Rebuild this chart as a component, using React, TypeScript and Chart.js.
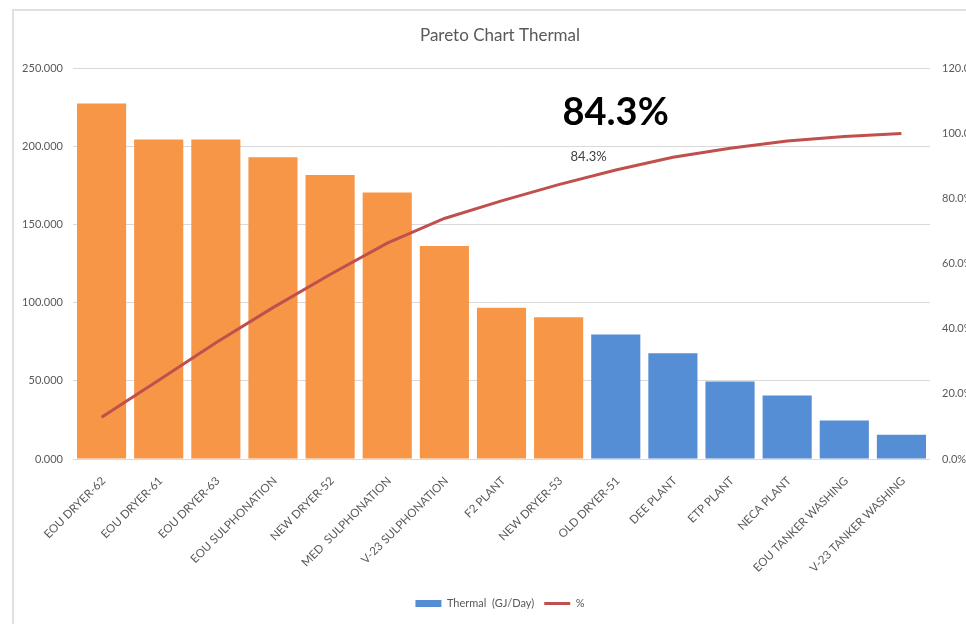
import React, { useEffect, useRef } from "react";
import { Chart, registerables } from "chart.js";

Chart.register(...registerables);

// Plants, sorted by daily thermal load
const categories = [
  "EOU DRYER-62",
  "EOU DRYER-61",
  "EOU DRYER-63",
  "EOU SULPHONATION",
  "NEW DRYER-52",
  "MED  SULPHONATION",
  "V-23 SULPHONATION",
  "F2 PLANT",
  "NEW DRYER-53",
  "OLD DRYER-51",
  "DEE PLANT",
  "ETP PLANT",
  "NECA PLANT",
  "EOU TANKER WASHING",
  "V-23 TANKER WASHING",
];

// Thermal (GJ/Day)
const thermal = [227.6, 204.5, 204.5, 193.1, 181.8, 170.5, 136.3, 96.8, 90.8, 79.7, 67.7, 49.6, 40.6, 24.6, 15.6];

// Cumulative share (%)
const cumulative = [12.8, 24.2, 35.7, 46.5, 56.7, 66.3, 73.9, 79.3, 84.3, 88.8, 92.7, 95.5, 97.7, 99.1, 100.0];

// Number of leading plants that make up the ~80% group
const vitalFew = 9;
// Point whose cumulative value is called out
const calloutIndex = 8;

const ORANGE = "#F79646";
const BLUE = "#558ED5";
const RED = "#C0504D";
const TEXT = "#595959";
const FONT = "Lato, 'Open Sans', sans-serif";

const calloutPlugin = {
  id: "callout",
  afterDatasetsDraw(chart: any) {
    const meta = chart.getDatasetMeta(1);
    const pt = meta.data[calloutIndex];
    if (!pt) return;
    const label = cumulative[calloutIndex].toFixed(1) + "%";
    const ctx = chart.ctx;
    ctx.save();
    ctx.textAlign = "center";
    ctx.textBaseline = "middle";
    ctx.font = `13px ${FONT}`;
    ctx.fillStyle = "#404040";
    ctx.fillText(label, pt.x + 30, pt.y - 28);
    ctx.font = `bold 38px ${FONT}`;
    ctx.fillStyle = "#000000";
    ctx.fillText(label, pt.x + 57, pt.y - 72);
    ctx.restore();
  },
};

export default function App() {
  const canvasRef = useRef<HTMLCanvasElement | null>(null);

  useEffect(() => {
    const canvas = canvasRef.current;
    if (!canvas) return;
    const chart = new Chart(canvas, {
      type: "bar",
      data: {
        labels: categories,
        datasets: [
          {
            type: "bar",
            label: "Thermal  (GJ/Day)",
            data: thermal,
            backgroundColor: thermal.map((_, i) => (i < vitalFew ? ORANGE : BLUE)),
            borderWidth: 0,
            categoryPercentage: 0.86,
            barPercentage: 1,
            yAxisID: "y",
            order: 1,
          },
          {
            type: "line",
            label: "%",
            data: cumulative,
            borderColor: RED,
            backgroundColor: RED,
            borderWidth: 3,
            pointRadius: 0,
            tension: 0,
            yAxisID: "y1",
            order: 0,
          },
        ] as any,
      },
      options: {
        responsive: false,
        animation: false,
        layout: { padding: { left: 0, right: 0, top: 0, bottom: 5 } },
        plugins: {
          title: {
            display: true,
            text: "Pareto Chart Thermal",
            color: TEXT,
            font: { family: FONT, size: 17, weight: "normal" },
            padding: { top: 14, bottom: 23 },
          },
          legend: {
            position: "bottom",
            labels: {
              usePointStyle: true,
              pointStyleWidth: 26,
              boxWidth: 26,
              boxHeight: 7,
              padding: 10,
              color: TEXT,
              font: { family: FONT, size: 11 },
              generateLabels: (c: any) =>
                c.data.datasets.map((ds: any, i: number) => ({
                  text: ds.label,
                  fillStyle: i === 0 ? BLUE : RED,
                  strokeStyle: i === 0 ? BLUE : RED,
                  lineWidth: i === 0 ? 0 : 3,
                  pointStyle: i === 0 ? "rect" : "line",
                  fontColor: TEXT,
                  hidden: false,
                  datasetIndex: i,
                })),
            },
          },
          tooltip: { enabled: false },
        },
        scales: {
          x: {
            grid: { display: false, drawTicks: false },
            border: { display: false },
            ticks: {
              autoSkip: false,
              maxRotation: 45,
              minRotation: 45,
              padding: 15,
              labelOffset: 2,
              color: TEXT,
              font: { family: FONT, size: 11.5 },
            },
            afterFit: (s: any) => {
              s.height = 129;
            },
          },
          y: {
            position: "left",
            min: 0,
            max: 250,
            ticks: {
              stepSize: 50,
              padding: 10,
              color: TEXT,
              font: { family: FONT, size: 11 },
              callback: (v: any) => Number(v).toFixed(3),
            },
            grid: { color: "#D9D9D9", drawTicks: false },
            border: { display: false },
            afterFit: (s: any) => {
              s.width = 59;
            },
          },
          y1: {
            position: "right",
            min: 0,
            max: 120,
            ticks: {
              stepSize: 20,
              padding: 12,
              color: TEXT,
              font: { family: FONT, size: 11 },
              callback: (v: any) => Number(v).toFixed(1) + "%",
            },
            grid: { display: false, drawTicks: false },
            border: { display: false },
            afterFit: (s: any) => {
              s.width = 56;
            },
          },
        },
      } as any,
      plugins: [calloutPlugin],
    });
    return () => chart.destroy();
  }, []);

  return (
    <div
      style={{
        position: "fixed",
        left: 0,
        top: 0,
        width: 966,
        height: 624,
        overflow: "hidden",
        background: "#ffffff",
      }}
    >
      <div
        style={{
          position: "absolute",
          left: 12,
          top: 9,
          width: 972,
          height: 640,
          borderLeft: "2px solid #E0E0E0",
          borderTop: "2px solid #E0E0E0",
          background: "#ffffff",
        }}
      >
        <canvas ref={canvasRef} width={972} height={613} style={{ display: "block" }} />
      </div>
    </div>
  );
}
